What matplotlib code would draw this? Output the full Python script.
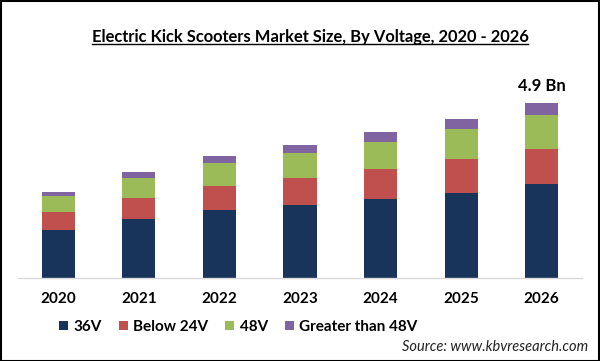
import matplotlib
matplotlib.use("Agg")
import matplotlib.pyplot as plt
from matplotlib.patches import Rectangle, Patch
from matplotlib.lines import Line2D

plt.rcParams['font.family'] = ['Lato', 'DejaVu Sans']

# Data (USD billion)
years = ['2020', '2021', '2022', '2023', '2024', '2025', '2026']
v36 = [1.34, 1.65, 1.90, 2.04, 2.21, 2.39, 2.62]
below24 = [0.50, 0.59, 0.67, 0.76, 0.84, 0.94, 0.98]
v48 = [0.46, 0.56, 0.64, 0.70, 0.76, 0.85, 0.96]
above48 = [0.11, 0.17, 0.20, 0.22, 0.28, 0.28, 0.34]
series_names = ['36V', 'Below 24V', '48V', 'Greater than 48V']
colors = ['#19345A', '#C0504D', '#9BBB59', '#8064A2']
total_label = '4.9 Bn'

W, H = 600, 361
fig = plt.figure(figsize=(W / 100, H / 100), dpi=100)
ax = fig.add_axes([18 / W, (H - 278) / H, 564 / W, 218 / H])

x = list(range(len(years)))
bottom = [0.0] * len(years)
for vals, col in zip([v36, below24, v48, above48], colors):
    ax.bar(x, vals, width=0.41, bottom=bottom, color=col, linewidth=0)
    bottom = [b + v for b, v in zip(bottom, vals)]

ax.set_xlim(-0.5, 6.5)
ax.set_ylim(0, 6.1)
ax.set_yticks([])
ax.set_xticks(x)
ax.set_xticklabels(years, fontsize=11, fontweight='bold')
ax.tick_params(axis='x', length=0, pad=10)
for s in ['top', 'right', 'left']:
    ax.spines[s].set_visible(False)
ax.spines['bottom'].set_color('#D9D9D9')
ax.spines['bottom'].set_linewidth(1)

# label on the last bar
ax.text(x[-1], bottom[-1] + 0.25, total_label, ha='center', va='bottom',
        fontsize=12, fontweight='bold')

# title with underline
title = fig.text(310 / W, 1 - 37 / H, 'Electric Kick Scooters Market Size, By Voltage, 2020 - 2026',
                 ha='center', va='center', fontsize=11.9, fontweight='bold')
fig.canvas.draw()
bb = title.get_window_extent().transformed(fig.transFigure.inverted())
fig.add_artist(Line2D([bb.x0, bb.x1], [bb.y0 + 0.004, bb.y0 + 0.004],
                      transform=fig.transFigure, color='black', linewidth=1))

# legend
handles = [Patch(facecolor=c, edgecolor='none') for c in colors]
fig.legend(handles, series_names, loc='center left', bbox_to_anchor=(59 / W, 1 - 327 / H),
           ncol=4, frameon=False, prop={'size': 11, 'weight': 'bold'},
           handlelength=0.6, handleheight=0.6, handletextpad=0.35, columnspacing=1.1,
           borderpad=0, borderaxespad=0)

fig.text(588 / W, 1 - 347 / H, 'Source: www.kbvresearch.com', ha='right', va='center',
         fontsize=10.5, style='italic', color='#222222')

# outer border
fig.add_artist(Rectangle((0.001, 0.001), 0.997, 0.996, transform=fig.transFigure,
                         fill=False, edgecolor='black', linewidth=1.5))

fig.savefig('out.png', dpi=100)
